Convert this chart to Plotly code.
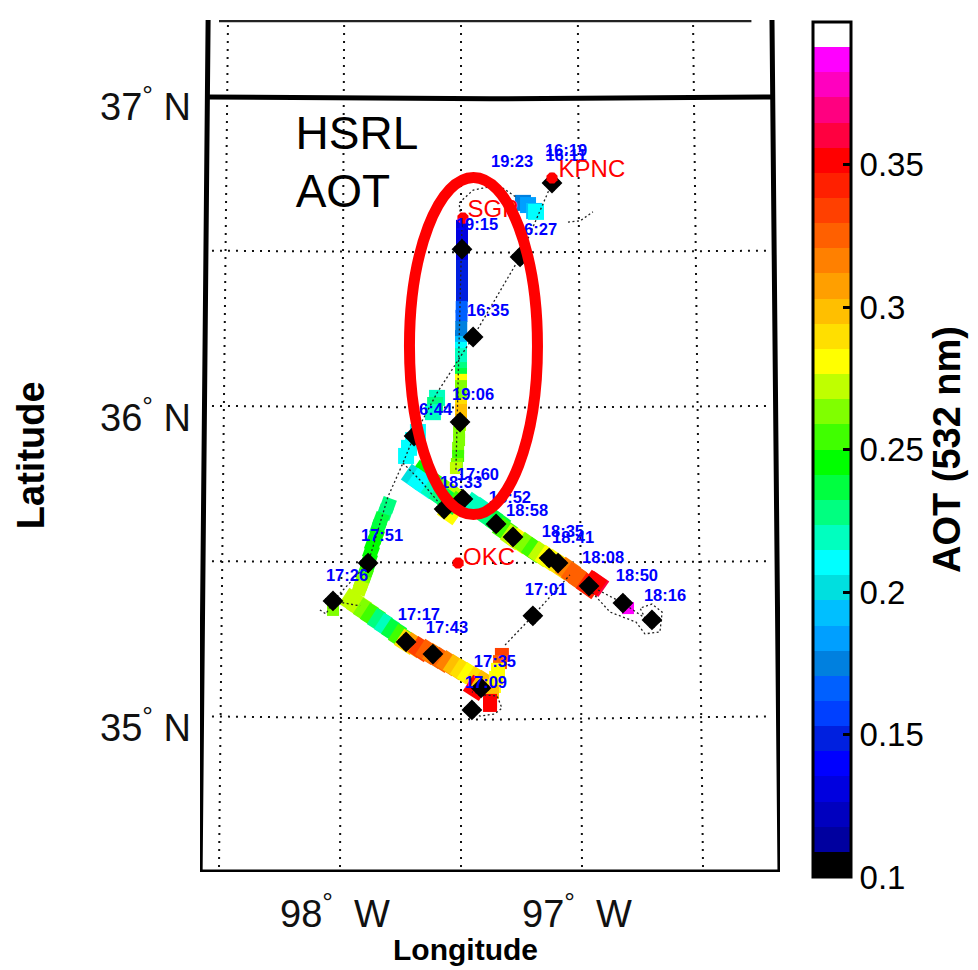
import plotly.graph_objects as go

# ---- colour bar bands (bottom to top) ----
band_colors = ["#000000","#00009f","#0000bf","#0000df","#0000ff","#0020df","#0040ff","#0060ff","#0080df",
               "#009fff","#00bfff","#00dfdf","#00ffff","#00ffbf","#00ff80","#00ff40","#00ff00","#40ff00",
               "#80ff00","#bfff00","#ffff00","#ffdf00","#ffbf00","#ff9f00","#ff8000","#ff6000","#ff4000",
               "#ff2000","#ff0000","#ff0040","#ff0080","#ff00bf","#ff00ff","#ffffff"]
aot_ticks = [0.1, 0.15, 0.2, 0.25, 0.3, 0.35, 0.4]
aot_ticktext = ["0.1", "0.15", "0.2", "0.25", "0.3", "0.35", "0.4"]

# ---- HSRL AOT along the flight track ----
track_lon = [
 -97.496,-97.496,-97.496,-97.496,-97.496,-97.496,-97.496,-97.496,-97.497,-97.498,-97.499,-97.500,
 -97.500,-97.500,-97.500,-97.500,-97.500,-97.500,-97.500,-97.500,-97.500,-97.500,-97.500,-97.500,-97.500,
 -97.504,-97.508,-97.508,-97.512,-97.512,-97.517,-97.521,
 -97.599,-97.607,-97.616,
 -97.678,-97.698,-97.715,-97.727,
 -97.244,-97.223,-97.198,-97.190,
 -97.661,-97.628,-97.595,-97.562,-97.537,-97.545,
 -97.694,-97.669,-97.641,-97.612,-97.579,-97.545,-97.512,-97.479,-97.446,-97.413,-97.380,-97.347,-97.318,
 -97.285,-97.256,-97.227,-97.198,-97.169,-97.141,-97.112,-97.083,-97.058,-97.033,-97.004,-96.942,-96.971,-96.950,
 -97.802,-97.814,-97.831,-97.843,-97.851,-97.864,-97.872,-97.880,-97.888,-97.897,-97.909,-97.917,
 -98.029,
 -97.950,-97.921,-97.893,-97.864,-97.835,-97.806,-97.777,-97.748,-97.723,-97.694,-97.665,-97.636,-97.607,
 -97.579,-97.550,-97.521,-97.492,-97.463,-97.434,-97.438,-97.405,
 -97.331,-97.339,-97.347,-97.355,-97.364,-97.372,-97.380,-97.380,
 -96.810]
track_lat = [
 36.585,36.552,36.520,36.488,36.456,36.423,36.391,36.359,36.324,36.295,36.259,36.230,
 36.211,36.192,36.172,36.150,36.127,36.108,36.089,36.069,36.050,36.031,36.011,35.992,35.973,
 35.944,35.921,35.895,35.870,35.844,35.818,35.805,
 36.031,36.008,35.985,
 35.921,35.895,35.870,35.844,
 36.659,36.652,36.633,36.630,
 35.789,35.766,35.747,35.731,35.718,35.663,
 35.776,35.763,35.747,35.734,35.715,35.696,35.689,35.686,35.686,35.670,35.647,35.628,35.605,
 35.583,35.570,35.557,35.541,35.528,35.515,35.502,35.486,35.477,35.461,35.444,35.432,35.425,35.435,
 35.686,35.663,35.638,35.612,35.586,35.560,35.535,35.509,35.483,35.461,35.438,35.419,
 35.348,
 35.377,35.361,35.345,35.329,35.312,35.296,35.280,35.261,35.245,35.235,35.222,35.213,35.200,
 35.187,35.177,35.164,35.151,35.138,35.126,35.097,35.113,
 35.203,35.180,35.155,35.129,35.103,35.084,35.055,35.042,
 35.354]
track_aot = [
 .132,.132,.132,.132,.149,.149,.149,.149,.166,.166,.175,.175,
 .193,.21,.22,.22,.228,.237,.28,.263,.263,.263,.29,.298,.298,
 .272,.263,.263,.263,.254,.263,.272,
 .22,.228,.22,
 .21,.21,.21,.21,
 .175,.184,.193,.21,
 .245,.245,.254,.263,.272,.28,
 .202,.21,.21,.22,.228,.237,.254,.245,.22,.22,.228,.237,.254,
 .272,.28,.263,.254,.272,.28,.28,.29,.316,.325,.325,.36,.343,.352,
 .228,.228,.237,.237,.245,.245,.245,.245,.245,.254,.263,.272,
 .263,
 .272,.272,.263,.254,.228,.22,.237,.254,.29,.307,.334,.325,.316,
 .325,.316,.298,.29,.28,.29,.352,.298,
 .334,.325,.28,.28,.28,.298,.352,.352,
 .387]
# leg boundaries in the arrays above: (start, stop, marker size, marker angle)
track_legs = [(0, 32, 12, 0), (32, 43, 16, 0), (43, 76, 19, 35), (76, 88, 14, 20),
              (88, 89, 12, 0), (89, 110, 19, 33), (110, 118, 14, 0), (118, 119, 12, 0)]

# ---- waypoint markers ----
stop_lon = [-97.124,-97.496,-97.256,-97.450,-97.504,-97.694,-97.492,-97.570,-97.355,-97.285,-97.136,-97.099,
            -96.971,-96.831,-96.711,-97.884,-98.029,-97.203,-97.727,-97.616,-97.417,-97.455]
stop_lat = [36.723,36.510,36.485,36.227,35.953,35.908,35.705,35.673,35.625,35.583,35.515,35.499,
            35.425,35.370,35.316,35.499,35.377,35.329,35.245,35.206,35.097,35.026]

# ---- time labels ----
time_text = ["19:23","16:19","16:11","19:15","16:27","16:35","19:06","16:44","17:60","18:33","18:52","18:58",
             "18:35","18:41","18:08","18:50","18:16","17:51","17:26","17:01","17:17","17:43","17:35","17:09"]
time_lon = [-97.289,-97.066,-97.066,-97.434,-97.190,-97.388,-97.450,-97.624,-97.430,-97.500,-97.298,-97.227,
            -97.079,-97.037,-96.913,-96.773,-96.657,-97.826,-97.971,-97.149,-97.674,-97.558,-97.360,-97.397]
time_lat = [36.787,36.823,36.807,36.585,36.568,36.308,36.037,35.989,35.779,35.754,35.705,35.663,
            35.596,35.576,35.512,35.454,35.390,35.583,35.454,35.409,35.329,35.287,35.177,35.110]

# ---- sites ----
site_names = ["SGP", "KPNC", "OKC"]
site_lon = [-97.492, -97.124, -97.512]
site_lat = [36.610, 36.739, 35.499]
site_label_lon = [-97.368, -96.959, -97.384]
site_label_lat = [36.633, 36.762, 35.512]

# ---- flight path (dotted) ----
path_lon = [-97.124,-97.256,-97.450,-97.599,-97.694,-97.740,-97.802,-97.884,-98.029,None,
            -97.740,-97.669,-97.570,None,
            -97.496,-97.508,-97.450,-97.347,-97.273,None,
            -97.058,-97.008,-96.955,None,
            -97.318,-97.203,-97.050,None,
            -96.950,-96.831,-96.740,-96.760,-96.711,-96.669,-96.678,-96.740,-96.777,-96.884,-96.967,None,
            -98.083,-98.058,-98.029,-97.917,None,
            -97.455,-97.422,-97.360,-97.331,-97.351,-97.401,-97.455,None,
            -97.496,-97.521]
path_lat = [36.723,36.485,36.227,36.047,35.908,35.821,35.712,35.499,35.377,None,
            35.821,35.766,35.673,None,
            36.588,36.659,36.700,36.717,36.678,None,
            36.597,36.601,36.630,None,
            35.235,35.329,35.461,None,
            35.419,35.370,35.322,35.354,35.367,35.341,35.277,35.271,35.309,35.341,35.412,None,
            35.348,35.335,35.377,35.361,None,
            35.026,35.006,35.013,35.032,35.071,35.074,35.084,None,
            36.588,35.799]

# ---- graticule ----
mer_lon = [-98.463,-98.5,None,-97.983,-98.0,None,-97.5,-97.5,None,-97.017,-97.0,None,-96.541,-96.5]
mer_lat = [37.232,34.517,None,37.232,34.517,None,37.232,34.517,None,37.232,34.517,None,37.232,34.517]
par_lon = [-98.529,-97.38,-96.232,None,-98.529,-97.38,-96.232,None,-98.529,-97.38,-96.232,None,-98.529,-97.38,-96.232]
par_lat = [36.505,36.499,36.505,None,36.005,35.999,36.005,None,35.505,35.499,35.505,None,35.005,34.995,35.005]

# ---- map frame ----
frame_lon = [-98.545,-98.548,-98.555,-98.578,-96.182,-96.215,None,-98.548,-97.38,-96.215]
frame_lat = [37.248,37.0,36.55,34.504,34.504,37.248,None,37.0,36.994,37.0]
top_lon = [-98.50,-96.30]
top_lat = [37.245,37.245]

TXT = "Liberation Sans"
colorscale = []
for i, c in enumerate(band_colors):
    colorscale += [[i / 34, c], [(i + 1) / 34, c]]

fig = go.Figure()
fig.add_trace(go.Scatter(x=mer_lon, y=mer_lat, mode="lines", hoverinfo="skip",
                         line=dict(color="#111111", width=2, dash="2px,6px")))
fig.add_trace(go.Scatter(x=par_lon, y=par_lat, mode="lines", hoverinfo="skip",
                         line=dict(color="#111111", width=2, dash="2px,6px")))
for a, b, size, angle in track_legs:
    fig.add_trace(go.Scatter(x=track_lon[a:b], y=track_lat[a:b], mode="markers",
                             marker=dict(symbol="square", size=size, angle=angle, color=track_aot[a:b],
                                         coloraxis="coloraxis", line=dict(width=0))))
fig.add_trace(go.Scatter(x=path_lon, y=path_lat, mode="lines", hoverinfo="skip",
                         line=dict(color="#222222", width=1.3, dash="2px,2.5px")))
fig.add_trace(go.Scatter(x=stop_lon, y=stop_lat, mode="markers",
                         marker=dict(symbol="diamond", size=16, color="black", line=dict(width=0))))
fig.add_trace(go.Scatter(x=stop_lon, y=stop_lat, mode="markers",
                         marker=dict(symbol="cross", size=13, color="black", line=dict(width=0))))
fig.add_trace(go.Scatter(x=site_lon, y=site_lat, mode="markers",
                         marker=dict(symbol="octagon", size=12, color="#ff0000", line=dict(width=0))))
fig.add_trace(go.Scatter(x=frame_lon, y=frame_lat, mode="lines", hoverinfo="skip", cliponaxis=False,
                         line=dict(color="black", width=5)))
fig.add_trace(go.Scatter(x=top_lon, y=top_lat, mode="lines", hoverinfo="skip", cliponaxis=False,
                         line=dict(color="#222222", width=2.5)))
fig.add_trace(go.Scatter(x=time_lon, y=time_lat, mode="text", text=time_text, textposition="middle center",
                         cliponaxis=False, textfont=dict(family=TXT, size=16.5, color="#0000ff", weight="bold")))
fig.add_trace(go.Scatter(x=site_label_lon, y=site_label_lat, mode="text", text=site_names,
                         textposition="middle center", textfont=dict(family=TXT, size=24, color="#ff0000")))
fig.add_trace(go.Scatter(x=[-97.930, -97.988], y=[36.871, 36.684], mode="text", text=["HSRL", "AOT"],
                         textposition="middle center", textfont=dict(family=TXT, size=46, color="black")))

fig.add_shape(type="circle", xref="x", yref="y", x0=-97.713, x1=-97.184, y0=35.655, y1=36.741,
              line=dict(color="#ff0000", width=11), fillcolor="rgba(0,0,0,0)", layer="above")

annos = [
    dict(text="<b>Longitude</b>", xref="paper", yref="paper", x=0.457, y=-0.0915, showarrow=False,
         xanchor="center", yanchor="middle", font=dict(family=TXT, size=30, color="black")),
    dict(text="<b>Latitude</b>", xref="paper", yref="paper", x=-0.29, y=0.489, textangle=-90, showarrow=False,
         xanchor="center", yanchor="middle", font=dict(family=TXT, size=38, color="black")),
]

fig.update_layout(
    width=970, height=962, autosize=False, showlegend=False,
    margin=dict(l=192, r=198, t=12, b=98, autoexpand=False),
    paper_bgcolor="white", plot_bgcolor="white",
    font=dict(family=TXT, color="#111111"),
    xaxis=dict(range=[-98.5785, -96.1819], showgrid=False, zeroline=False, showline=False,
               tickvals=[-98, -97], ticktext=["98<sup>°</sup>\u00a0\u00a0W", "97<sup>°</sup>\u00a0\u00a0W"],
               ticks="", tickfont=dict(size=38, family=TXT, color="#111111"), ticklabelstandoff=16,
               ticklabelshift=-5),
    yaxis=dict(range=[34.504, 37.248], showgrid=False, zeroline=False, showline=False,
               tickvals=[35, 36, 37],
               ticktext=["35<sup>°</sup>\u00a0N", "36<sup>°</sup>\u00a0N", "37<sup>°</sup>\u00a0N"],
               ticks="", tickfont=dict(size=38, family=TXT, color="#111111"), ticklabelstandoff=8,
               ticklabelshift=10),
    coloraxis=dict(
        cmin=0.1, cmax=0.4, colorscale=colorscale,
        colorbar=dict(
            x=1.0569, xanchor="left", xpad=0, y=-0.00587, yanchor="bottom", ypad=0,
            lenmode="pixels", len=855, thicknessmode="pixels", thickness=38,
            outlinecolor="black", outlinewidth=3, borderwidth=0,
            tickmode="array", tickvals=aot_ticks, ticktext=aot_ticktext,
            ticks="inside", ticklen=9, tickwidth=2.5, tickcolor="black",
            tickfont=dict(family=TXT, size=33, color="black"),
            title=dict(text="<b>AOT (532 nm)</b>", side="right", font=dict(family=TXT, size=38, color="black")),
        ),
    ),
    annotations=annos,
)
fig.write_html("out.html")
